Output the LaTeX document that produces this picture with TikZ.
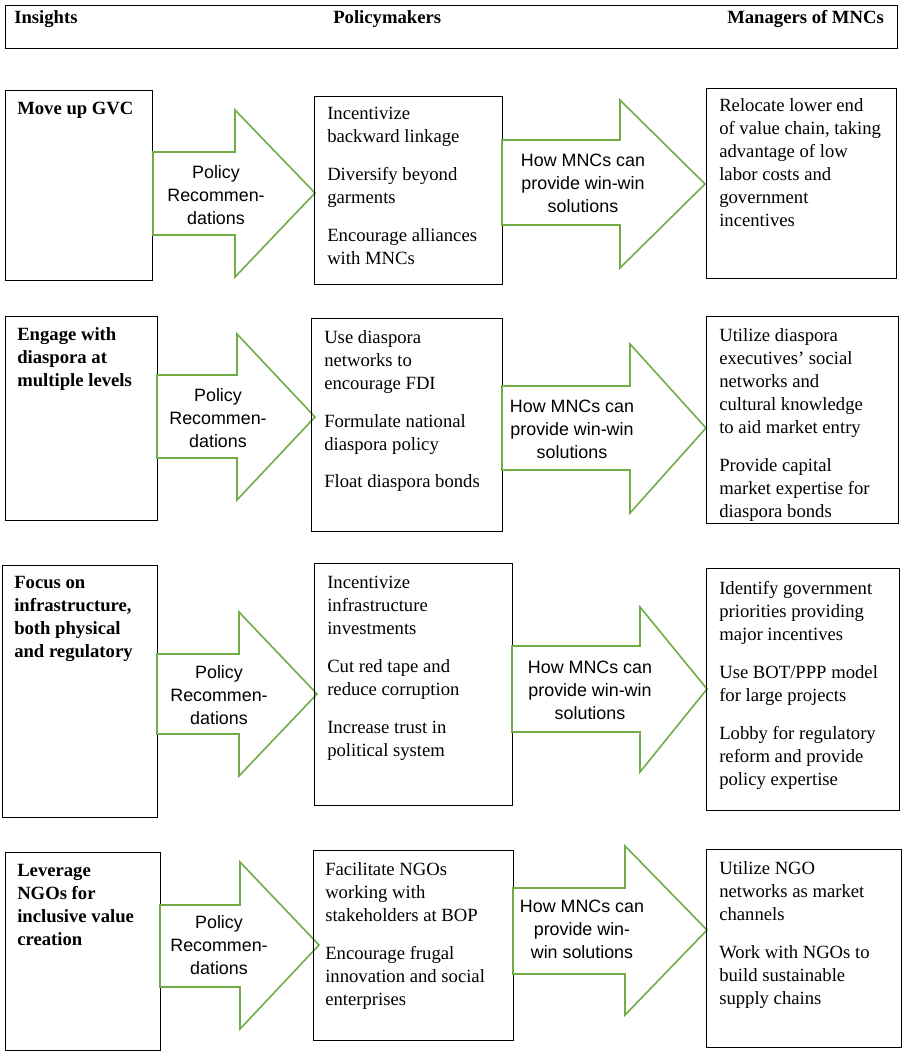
\documentclass[tikz,border=0pt]{standalone}
\usepackage{fontspec}
\setmainfont{Liberation Serif}
\newfontfamily\arrowfont{Liberation Sans}
\definecolor{arrowgreen}{RGB}{112,173,71}
\begin{document}
\begin{tikzpicture}[x=0.75pt, y=-0.75pt,
        box/.style={draw, line width=0.6pt},
        bigArrow/.style={draw=arrowgreen, line width=1.2pt},
        txt/.style={anchor=north west, align=left, inner sep=0pt, font=\fontsize{14}{17.3}\selectfont},
        hdr/.style={txt, font=\fontsize{14}{17.3}\selectfont\bfseries},
        arrowTxt/.style={align=center, inner sep=0pt, font=\arrowfont\fontsize{13.4}{17.3}\selectfont}
    ]
        \useasboundingbox (0,0) rectangle (907,1057);

        % Header
        \draw[box] (5,5) rectangle (897,48);
        \node[hdr] (h1) at (14,10) {Insights};
        \node[hdr] (h2) at (333,10) {Policymakers};
        \node[hdr] (h3) at (727,10) {Managers of MNCs};

        % Row 1
        \draw[box] (5,90) rectangle (152,280);
        \draw[bigArrow] (153,152) -- (235,152) -- (235,110) -- (315,193) -- (235,277) -- (235,235) -- (153,235) -- cycle;
        \draw[box] (314,96) rectangle (502,284);
        \draw[bigArrow] (502,140) -- (620,140) -- (620,100) -- (705,184) -- (620,268) -- (620,225) -- (502,225) -- cycle;
        \draw[box] (706,88) rectangle (896,278);
        \node[hdr] (i1) at (17,102) {Move up GVC};
        \node[arrowTxt] (p1) at (216,195) {Policy\\Recommen-\\dations};
        \node[txt] (m1) at (327,107) {Incentivize\\backward linkage\\[11pt]Diversify beyond\\garments\\[11pt]Encourage alliances\\with MNCs};
        \node[arrowTxt] (w1) at (583,183) {How MNCs can\\provide win-win\\solutions};
        \node[txt] (r1) at (719,98) {Relocate lower end\\of value chain, taking\\advantage of low\\labor costs and\\government\\incentives};

        % Row 2
        \draw[box] (5,316) rectangle (157,520);
        \draw[bigArrow] (157,375) -- (237,375) -- (237,334) -- (315,417) -- (237,500) -- (237,458) -- (157,458) -- cycle;
        \draw[box] (311,318) rectangle (502,531);
        \draw[bigArrow] (502,386) -- (630,386) -- (630,344) -- (706,428) -- (630,513) -- (630,470) -- (502,470) -- cycle;
        \draw[box] (706,316) rectangle (898,523);
        \node[hdr] (i2) at (17,327) {Engage with\\diaspora at\\multiple levels};
        \node[arrowTxt] (p2) at (218,418) {Policy\\Recommen-\\dations};
        \node[txt] (m2) at (324,330) {Use diaspora\\networks to\\encourage FDI\\[11pt]Formulate national\\diaspora policy\\[11pt]Float diaspora bonds};
        \node[arrowTxt] (w2) at (572,429) {How MNCs can\\provide win-win\\solutions};
        \node[txt] (r2) at (719,328) {Utilize diaspora\\executives' social\\networks and\\cultural knowledge\\to aid market entry\\[11pt]Provide capital\\market expertise for\\diaspora bonds};

        % Row 3
        \draw[box] (2,565) rectangle (157,817);
        \draw[bigArrow] (157,654) -- (239,654) -- (239,612) -- (317,694) -- (239,776) -- (239,734) -- (157,734) -- cycle;
        \draw[box] (314,563) rectangle (512,805);
        \draw[bigArrow] (512,646) -- (640,646) -- (640,607) -- (707,689) -- (640,772) -- (640,732) -- (512,732) -- cycle;
        \draw[box] (706,568) rectangle (899,810);
        \node[hdr] (i3) at (14,576) {Focus on\\infrastructure,\\both physical\\and regulatory};
        \node[arrowTxt] (p3) at (219,695) {Policy\\Recommen-\\dations};
        \node[txt] (m3) at (327,576) {Incentivize\\infrastructure\\investments\\[11pt]Cut red tape and\\reduce corruption\\[11pt]Increase trust in\\political system};
        \node[arrowTxt] (w3) at (590,690) {How MNCs can\\provide win-win\\solutions};
        \node[txt] (r3) at (719,581) {Identify government\\priorities providing\\major incentives\\[11pt]Use BOT/PPP model\\for large projects\\[11pt]Lobby for regulatory\\reform and provide\\policy expertise};

        % Row 4
        \draw[box] (5,852) rectangle (160,1050);
        \draw[bigArrow] (160,905) -- (240,905) -- (240,862) -- (319,945) -- (240,1029) -- (240,987) -- (160,987) -- cycle;
        \draw[box] (313,850) rectangle (513,1040);
        \draw[bigArrow] (513,888) -- (625,888) -- (625,846) -- (707,930) -- (625,1015) -- (625,974) -- (513,974) -- cycle;
        \draw[box] (706,849) rectangle (901,1047);
        \node[hdr] (i4) at (17,864) {Leverage\\NGOs for\\inclusive value\\creation};
        \node[arrowTxt] (p4) at (219,945) {Policy\\Recommen-\\dations};
        \node[txt] (m4) at (325,862) {Facilitate NGOs\\working with\\stakeholders at BOP\\[11pt]Encourage frugal\\innovation and social\\enterprises};
        \node[arrowTxt] (w4) at (582,929) {How MNCs can\\provide win-\\win solutions};
        \node[txt] (r4) at (719,861) {Utilize NGO\\networks as market\\channels\\[11pt]Work with NGOs to\\build sustainable\\supply chains};
    \end{tikzpicture}
\end{document}
